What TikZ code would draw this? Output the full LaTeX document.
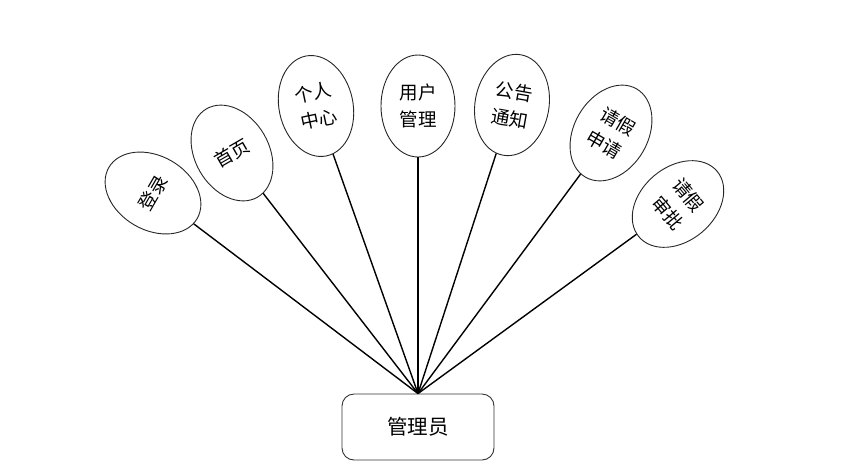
\documentclass[tikz,border=0pt]{standalone}
\usepackage{fontspec}
\setmainfont{Noto Sans CJK SC}
\usetikzlibrary{shapes.geometric}

\begin{document}
\begin{tikzpicture}[
  x=1pt,
  y=-1pt,
  font=\fontsize{18.5}{27}\selectfont,
  function/.style={
    draw=black!85,
    line width=0.9pt,
    ellipse,
    fill=white,
    minimum width=74pt,
    minimum height=102pt,
    inner sep=0pt,
    align=center
  },
  role/.style={
    draw=black!80,
    line width=0.9pt,
    rounded corners=12pt,
    fill=white,
    minimum width=152pt,
    minimum height=66pt,
    font=\fontsize{20.5}{24}\selectfont
  },
  link/.style={line width=1.4pt,draw=black}
]
  \useasboundingbox (0,0) rectangle (844,467);

  % The actor sits at the bottom and every function hangs from its top.
  \node[role] (admin) at (418,427) {管理员};

  % Functions are fanned out over the actor, each turned toward it.
  \node[function,rotate=60] (login) at (153,193) {登录};
  \node[function,rotate=30] (home) at (232,153) {首页};
  \node[function,rotate=12] (profile) at (316,106) {个人\\中心};
  \node[function] (users) at (418,106) {用户\\管理};
  \node[function,rotate=-10] (notice) at (512,105) {公告\\通知};
  \node[function,rotate=-30] (leaveapply) at (611,133) {请假\\申请};
  \node[function,rotate=-50] (leavecheck) at (678,204) {请假\\审批};

  \foreach \fn in {login,home,profile,users,notice,leaveapply,leavecheck}
    \draw[link] (admin.north) -- (\fn);
\end{tikzpicture}
\end{document}
